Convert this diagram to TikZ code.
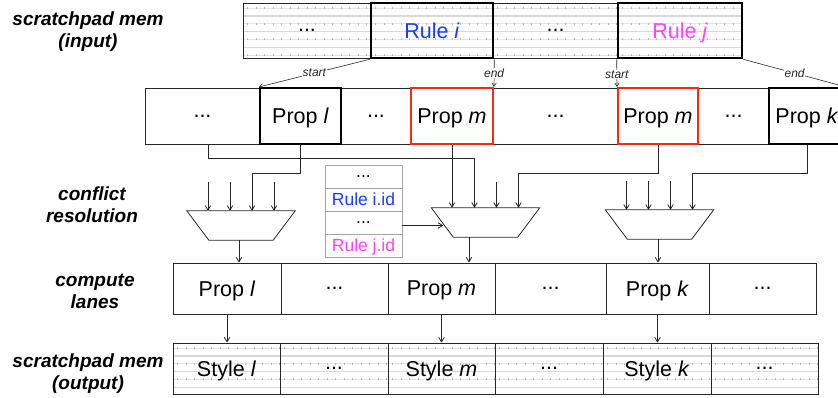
\documentclass[tikz,border=0pt]{standalone}
\usepackage{fontspec}
\setmainfont{Liberation Sans}
\usetikzlibrary{shapes.geometric,arrows.meta,calc}
\definecolor{ruleblue}{RGB}{25,60,255}
\definecolor{rulemag}{RGB}{255,64,255}
\definecolor{propred}{RGB}{245,45,15}
\newcommand\cellfnt{\fontsize{21.5}{24}\selectfont}
\newcommand\idfnt{\fontsize{17.5}{20}\selectfont}
\newcommand\lblfnt{\fontsize{19}{22}\selectfont\bfseries\itshape}
\newcommand\tagfnt{\fontsize{12}{13}\selectfont\itshape}
\begin{document}
\begin{tikzpicture}[x=1pt,y=-1pt,
  cell/.style={draw=black!85, line width=0.8pt, inner sep=0pt, font=\cellfnt, text depth=0pt},
  hatch/.style={path picture={
    \foreach \k in {0,...,4}{
      \draw[gray!30, line width=1.3pt]
        ([yshift={-13pt-\k*15.6pt}]path picture bounding box.north west) --
        ([yshift={-13pt-\k*15.6pt}]path picture bounding box.north east);
      \draw[gray!20, line width=0.5pt]
        ([yshift={-5pt-\k*15.6pt}]path picture bounding box.north west) --
        ([yshift={-5pt-\k*15.6pt}]path picture bounding box.north east);
      \draw[gray!55, line width=2pt, dash pattern=on 0.5pt off 8pt]
        ([yshift={-5pt-\k*15.6pt},xshift=4pt]path picture bounding box.north west) --
        ([yshift={-5pt-\k*15.6pt}]path picture bounding box.north east);
    }}},
  thick box/.style={line width=2.6pt, draw=black},
  red box/.style={line width=2pt, draw=propred},
  muxbox/.style={inner sep=0pt, minimum width=108pt, minimum height=29pt},
  muxline/.style={draw=black!85, line width=0.8pt},
  idcell/.style={draw=gray!70, line width=0.9pt, inner sep=0pt, minimum width=77pt,
    minimum height=23pt, font=\idfnt, text depth=0pt},
  arr/.style={draw=black!85, line width=0.8pt, -{Straight Barb[length=4.5pt,width=5.5pt]}},
  link/.style={draw=black!85, line width=0.6pt, -{Straight Barb[length=3.5pt,width=4.5pt]}},
  tag/.style={font=\tagfnt, fill=white, inner sep=0.5pt, text=black!85},
  lbl/.style={font=\lblfnt, align=center, inner sep=0pt}
]
\useasboundingbox (0,0) rectangle (838,398);
\clip (0,0) rectangle (838,398);

% left labels
\node[lbl] (L1) at (88,32) {scratchpad mem\\(input)};
\node[lbl] (L2) at (92,205) {conflict\\resolution};
\node[lbl] (L3) at (95,291) {compute\\lanes};
\node[lbl] (L4) at (88,374) {scratchpad mem\\(output)};

% top row: scratchpad mem (input)
\node[cell, hatch, minimum width=128pt, minimum height=55pt] (t1) at (307,30.5) {...};
\node[cell, hatch, minimum width=125pt, minimum height=55pt] (t2) at (555.5,30.5) {...};
\node[cell, hatch, thick box, minimum width=122pt, minimum height=55pt, text=ruleblue] (ti) at (432,30.5) {Rule \textit{i}};
\node[cell, hatch, thick box, minimum width=124pt, minimum height=55pt, text=rulemag] (tj) at (680,30.5) {Rule \textit{j}};

% prop row
\node[cell, minimum width=115pt, minimum height=56pt] (p1) at (202.5,116) {...};
\node[cell, minimum width=70pt, minimum height=56pt] (p2) at (376,116) {...};
\node[cell, minimum width=125pt, minimum height=56pt] (p3) at (555.5,116) {...};
\node[cell, minimum width=71pt, minimum height=56pt] (p4) at (733.5,116) {...};
\node[cell, thick box, line width=2pt, minimum width=81pt, minimum height=56pt] (pl) at (300.5,116) {Prop \textit{l}};
\node[cell, red box, minimum width=82pt, minimum height=56pt] (pm1) at (452,116) {Prop \textit{m}};
\node[cell, red box, minimum width=80pt, minimum height=56pt] (pm2) at (658,116) {Prop \textit{m}};
\node[cell, thick box, line width=2pt, minimum width=76pt, minimum height=56pt] (pk) at (807,116) {Prop \textit{k}};

% start / end links
\draw[link] (ti.south west) -- node[tag, pos=0.5] {start} (pl.north west);
\draw[link] (ti.south east) -- node[tag, pos=0.5] {end} (pm1.north east);
\draw[link] (tj.south west) -- node[tag, pos=0.55] {start} (pm2.north west);
\draw[link] (tj.south east) -- node[tag, pos=0.5] {end} (pk.north east);

% id table
\node[idcell] (id1) at (363.5,176.5) {...};
\node[idcell, text=ruleblue] (id2) at (363.5,199.5) {Rule i.id};
\node[idcell] (id3) at (363.5,222.5) {...};
\node[idcell, text=rulemag] (id4) at (363.5,245.5) {Rule j.id};

% muxes
\node[muxbox] (m1) at (241,225.5) {};
\node[muxbox] (m2) at (485.5,222.5) {};
\node[muxbox] (m3) at (659.5,224.5) {};

\foreach \m in {m1,m2,m3}{
  \draw[muxline] (\m.north west) -- (\m.north east) -- ([xshift=-22pt]\m.south east)
    -- ([xshift=22pt]\m.south west) -- cycle;
  \coordinate (\m a) at ($(\m.north)+(-33,0)$);
  \coordinate (\m b) at ($(\m.north)+(-11,0)$);
  \coordinate (\m c) at ($(\m.north)+(11,0)$);
  \coordinate (\m d) at ($(\m.north)+(33,0)$);
}

% stub inputs
\draw[arr] ([yshift=29pt]m1a) -- (m1a);
\draw[arr] ([yshift=29pt]m1b) -- (m1b);
\draw[arr] ([yshift=29pt]m1d) -- (m1d);
\draw[arr] ([yshift=26pt]m2c) -- (m2c);
\draw[arr] ([yshift=29pt]m3a) -- (m3a);
\draw[arr] ([yshift=29pt]m3b) -- (m3b);
\draw[arr] ([yshift=29pt]m3c) -- (m3c);

% wires from prop row
\draw[arr] ([xshift=5.5pt]p1.south) -- ++(0,14) -| (m2b);
\draw[arr] (pl.south) -- ++(0,28) -| (m1c);
\draw[arr] (pm1.south) -- (pm1.south |- m2a);
\draw[arr] (pm2.south) -- ++(0,28) -| (m2d);
\draw[arr] (pk.south) -- ++(0,28) -| (m3d);

% id table to mux 2
\draw[arr] ([yshift=-3pt]id3.east) -- ([xshift=12pt,yshift=-3pt]m2.west);

% compute lanes
\node[cell, minimum width=108pt, minimum height=51pt] (c1) at (227,288.5) {Prop \textit{l}};
\node[cell, minimum width=107pt, minimum height=51pt] (c2) at (334.5,288.5) {...};
\node[cell, minimum width=107pt, minimum height=51pt] (c3) at (441.5,288.5) {Prop \textit{m}};
\node[cell, minimum width=111pt, minimum height=51pt] (c4) at (550.5,288.5) {...};
\node[cell, minimum width=103pt, minimum height=51pt] (c5) at (657.5,288.5) {Prop \textit{k}};
\node[cell, minimum width=107pt, minimum height=51pt] (c6) at (762.5,288.5) {...};

% mux outputs
\draw[arr] ([xshift=-2pt]m1.south) -- ([xshift=-2pt]m1.south |- c1.north);
\draw[arr] ([xshift=-16.5pt]m2.south) -- ([xshift=-16.5pt]m2.south |- c3.north);
\draw[arr] ([xshift=-1.5pt]m3.south) -- ([xshift=-1.5pt]m3.south |- c5.north);

% scratchpad mem (output)
\node[cell, hatch, minimum width=107pt, minimum height=51pt] (o1) at (226.5,368.5) {Style \textit{l}};
\node[cell, hatch, minimum width=108pt, minimum height=51pt] (o2) at (334,368.5) {...};
\node[cell, hatch, minimum width=107pt, minimum height=51pt] (o3) at (441.5,368.5) {Style \textit{m}};
\node[cell, hatch, minimum width=108pt, minimum height=51pt] (o4) at (549,368.5) {...};
\node[cell, hatch, minimum width=108pt, minimum height=51pt] (o5) at (657,368.5) {Style \textit{k}};
\node[cell, hatch, minimum width=107pt, minimum height=51pt] (o6) at (764.5,368.5) {...};

\draw[arr] (c1.south) -- (o1.north -| c1.south);
\draw[arr] (c3.south) -- (o3.north -| c3.south);
\draw[arr] (c5.south) -- (o5.north -| c5.south);
\end{tikzpicture}
\end{document}
